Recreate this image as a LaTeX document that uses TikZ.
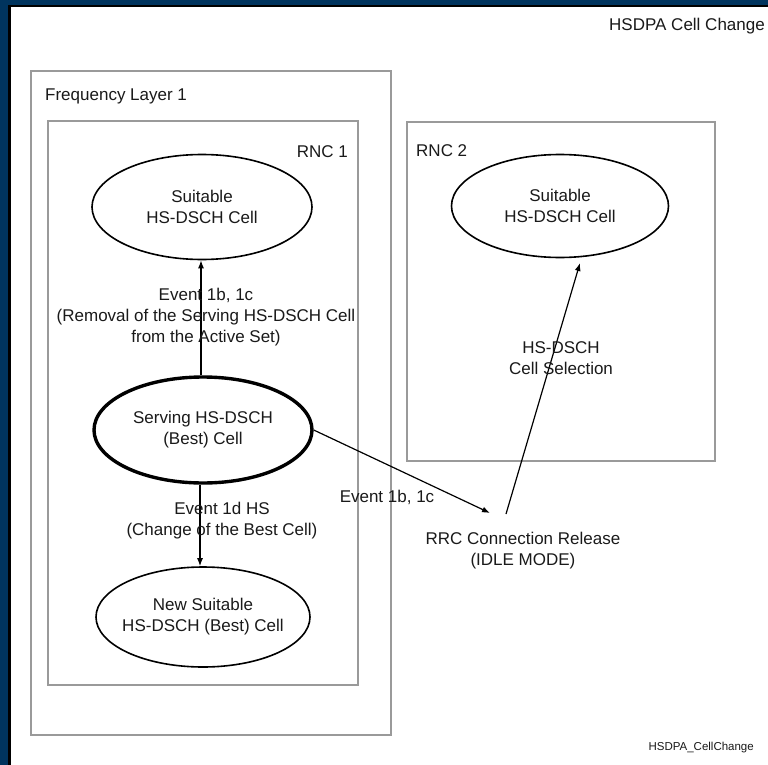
\documentclass[tikz,border=0pt]{standalone}
\usepackage{fontspec}
\setmainfont{Liberation Sans}
\usetikzlibrary{shapes.geometric,arrows.meta}
\definecolor{navy}{HTML}{00345E}
\definecolor{boxgray}{HTML}{9A9A9A}
\definecolor{txt}{HTML}{1A1A1A}
\tikzset{
  box/.style={draw=boxgray,line width=2.4pt},
  cell/.style={ellipse,draw=black,line width=1.6pt,inner xsep=-20pt,inner ysep=0pt,align=center,text=txt,font=\fontsize{17}{21}\selectfont},
  lbl/.style={inner sep=0pt,align=center,text=txt,font=\fontsize{17}{21}\selectfont},
  arr/.style={draw=black,line width=1.2pt,-{Latex[length=8pt,width=6pt]}}
}
\begin{document}
\begin{tikzpicture}[x=1pt,y=-1pt]
\useasboundingbox (0,0) rectangle (768,765);
\fill[white] (0,0) rectangle (768,765);
% frame
\fill[navy] (0,0) rectangle (8,765);
\fill[navy] (0,0) rectangle (768,5);
\fill[black] (8,5) rectangle (11,765);
\fill[black] (8,5) rectangle (768,7.5);
% boxes
\draw[box] (31,71) rectangle (391,735);
\draw[box] (48,121) rectangle (358,685);
\draw[box] (407,122) rectangle (715,461);
% titles
\node[lbl,anchor=east] (title) at (765,26) {HSDPA Cell Change};
\node[lbl,anchor=west] (freq) at (45,96) {Frequency Layer 1};
\node[lbl,anchor=east] (rnc1) at (348,152) {RNC 1};
\node[lbl,anchor=west] (rnc2) at (416,151) {RNC 2};
\node[inner sep=0pt,text=txt,font=\fontsize{11.5}{13}\selectfont,anchor=east] (fig) at (754,748) {HSDPA\_CellChange};
% cells
\node[cell,minimum width=220pt,minimum height=105pt] (top) at (202,207) {Suitable\\HS-DSCH Cell};
\node[cell,line width=3.4pt,minimum width=218pt,minimum height=106pt] (serv) at (203,430) {Serving HS-DSCH\\(Best) Cell};
\node[cell,minimum width=214pt,minimum height=100pt] (new) at (203,617) {New Suitable\\HS-DSCH (Best) Cell};
\node[cell,minimum width=217pt,minimum height=103pt] (c2) at (560,206) {Suitable\\HS-DSCH Cell};
\node[lbl] (rrc) at (523,551) {RRC Connection Release\\(IDLE MODE)};
\coordinate (rrcin) at (490,513);
\coordinate (rrcout) at (506,514);
\coordinate (c2in) at (580,263);
% connectors
\draw[arr] (serv.north -| 201,0) -- (top.south -| 201,0);
\draw[arr] (serv.south -| 200,0) -- (new.north -| 200,0);
\draw[arr] (serv.east) -- (rrcin);
\draw[arr] (rrcout) -- (c2in);
% labels
\node[lbl] (l1) at (206,317) {Event 1b, 1c\\(Removal of the Serving HS-DSCH Cell\\from the Active Set)};
\node[lbl] (l2) at (222,521) {Event 1d HS\\(Change of the Best Cell)};
\node[lbl] (l3) at (387,497) {Event 1b, 1c};
\node[lbl] (l4) at (561,358) {HS-DSCH\\Cell Selection};
\end{tikzpicture}
\end{document}
